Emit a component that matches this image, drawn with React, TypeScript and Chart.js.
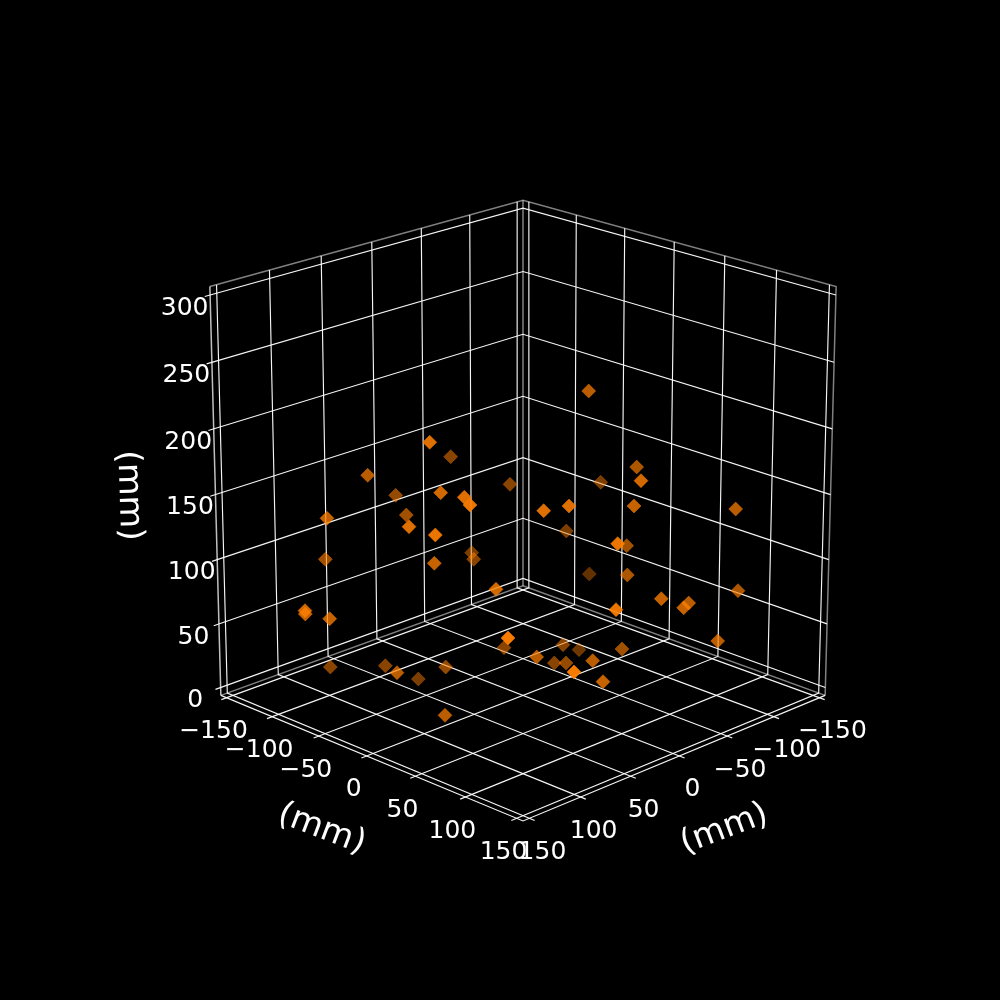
import React, { useEffect, useRef } from "react";
import { Chart, registerables } from "chart.js";

Chart.register(...registerables);

// Axis ticks (mm)
const xyTicks = [-150, -100, -50, 0, 50, 100, 150];
const zTicks = [0, 50, 100, 150, 200, 250, 300];
const axisTitle = "(mm)";

// Markers (projected position, depth shade)
const markerH = [429.7, 450.7, 367.7, 510, 395.7, 440.7, 464.3, 470, 327, 406.3, 409, 435.3, 325.3, 434.3, 471.7, 473.7, 496, 588.7, 636.7, 641, 600.7, 543.7, 569, 634, 735.7, 566.3, 617.7, 626.7, 589.3, 627.3, 738, 661.3, 688.7, 683.7, 616, 717.7, 508, 504, 563, 579, 622, 536.7, 554.3, 566, 592.7, 574, 603, 305, 305.3, 329.7, 330.3, 385.3, 397, 418.3, 445.7, 445];
const markerV = [442.3, 456.7, 475.3, 484.3, 495.3, 492.7, 497.3, 505, 518.3, 515, 526.7, 535, 559.3, 563.3, 552.7, 559.3, 589.3, 391, 467, 480.7, 482.3, 510.7, 506, 506, 509, 531, 543.7, 545.7, 574, 575, 590.7, 598.7, 603, 607.7, 609.7, 641, 638, 647.7, 644.7, 649.7, 649, 657, 663, 663, 660.7, 672, 681.7, 610.7, 614, 618.7, 667, 665.7, 672.7, 679, 667, 715.3];
const markerShade = [0.9, 0.55, 0.75, 0.55, 0.6, 0.85, 0.9, 0.95, 0.8, 0.65, 0.9, 0.95, 0.65, 0.8, 0.5, 0.55, 0.85, 0.75, 0.7, 0.85, 0.5, 0.9, 0.9, 0.8, 0.75, 0.5, 0.95, 0.65, 0.4, 0.7, 0.7, 0.8, 0.75, 0.8, 0.95, 0.75, 1, 0.55, 0.55, 0.45, 0.65, 0.75, 0.55, 0.6, 0.75, 1, 0.8, 0.85, 0.8, 0.8, 0.55, 0.55, 0.75, 0.5, 0.6, 0.75];

// Camera
const ELEV = (20 * Math.PI) / 180;
const AZIM = (45 * Math.PI) / 180;
const DIST = 10;
const HALF = 0.5225;
const SCALE = 4162;
const CX = 523;
const CY = 494.6;
const XY_LIM = 156.25;
const Z_MIN = -6.25;
const Z_MAX = 306.25;
const TICK_OUT = 5;

type P = { x: number; y: number };

function project(xv: number, yv: number, zv: number): P {
  const zc = (Z_MIN + Z_MAX) / 2;
  const px = (xv / XY_LIM) * HALF;
  const py = (yv / XY_LIM) * HALF;
  const pz = ((zv - zc) / (Z_MAX - zc)) * HALF;
  const ce = Math.cos(ELEV), se = Math.sin(ELEV), ca = Math.cos(AZIM), sa = Math.sin(AZIM);
  const X = -sa * px + ca * py;
  const Y = -se * ca * px - se * sa * py + ce * pz;
  const depth = DIST - (ce * ca * px + ce * sa * py + se * pz);
  return { x: CX + (SCALE * X) / depth, y: CY - (SCALE * Y) / depth };
}

function line(points: P[], color: string, width = 1.15) {
  return {
    type: "scatter" as const,
    data: points,
    showLine: true,
    pointRadius: 0,
    borderColor: color,
    borderWidth: width,
    order: 2,
  };
}

const GRID = "rgba(255,255,255,0.96)";
const PANE = "rgba(255,255,255,0.5)";
const L = XY_LIM;

function buildLines() {
  const out: any[] = [];
  for (const t of xyTicks) {
    // x ticks: floor front to back, then up the back wall
    out.push(line([project(t, L + TICK_OUT, Z_MIN), project(t, -L, Z_MIN), project(t, -L, Z_MAX)], GRID));
    // y ticks
    out.push(line([project(L + TICK_OUT, t, Z_MIN), project(-L, t, Z_MIN), project(-L, t, Z_MAX)], GRID));
  }
  for (const t of zTicks) {
    out.push(line([project(L + TICK_OUT, -L, t), project(-L, -L, t), project(-L, L, t)], GRID));
  }
  // panes' outlines
  out.push(line([project(L, -L, Z_MAX), project(-L, -L, Z_MAX), project(-L, L, Z_MAX), project(-L, L, Z_MIN)], PANE, 1.5));
  out.push(line([project(L, -L, Z_MIN), project(-L, -L, Z_MIN), project(-L, L, Z_MIN)], PANE, 1.5));
  out.push(line([project(-L, -L, Z_MIN), project(-L, -L, Z_MAX)], PANE, 1.5));
  // axis lines
  out.push(line([project(L, -L, Z_MIN), project(L, L, Z_MIN), project(-L, L, Z_MIN)], GRID));
  out.push(line([project(L, -L, Z_MIN), project(L, -L, Z_MAX)], "rgba(255,255,255,0.75)", 1.5));
  return out;
}

const textPlugin = {
  id: "axisText",
  afterDatasetsDraw(chart: any) {
    const ctx: CanvasRenderingContext2D = chart.ctx;
    const sx = chart.scales.x, sy = chart.scales.y;
    const put = (p: P, dx: number, dy: number, s: string, size: number, rot = 0) => {
      ctx.save();
      ctx.translate(sx.getPixelForValue(p.x) + dx, sy.getPixelForValue(p.y) + dy);
      ctx.rotate((rot * Math.PI) / 180);
      ctx.font = `${size}px "DejaVu Sans"`;
      ctx.fillStyle = "#fff";
      ctx.textAlign = "center";
      ctx.textBaseline = "middle";
      ctx.fillText(s, 0, 0);
      ctx.restore();
    };
    const fmt = (t: number) => String(t).replace("-", "\u2212");
    for (const t of xyTicks) {
      put(project(t, L, Z_MIN), 13, 34, fmt(t), 25);
      put(project(L, t, Z_MIN), -13, 34, fmt(t), 25);
    }
    for (const t of zTicks) {
      put(project(L, -L, t), -25.5, 13.2, fmt(t), 25);
    }
    put(project(L, 0, Z_MIN), -45, 73.5, axisTitle, 33.3, 20.7);
    put(project(0, L, Z_MIN), 45, 73.5, axisTitle, 33.3, -20.7);
    put(project(L, -L, 150), -87, 1, axisTitle, 33.3, 88);
  },
};

export default function App() {
  const ref = useRef<HTMLCanvasElement>(null);
  useEffect(() => {
    document.body.style.margin = "0";
    document.body.style.background = "#000";
    const points = markerH.map((h, i) => ({ x: h, y: markerV[i] }));
    const chart = new Chart(ref.current!, {
      type: "scatter",
      data: {
        datasets: [
          ...buildLines(),
          {
            type: "scatter",
            data: points,
            pointStyle: "rectRot",
            pointRadius: 7,
            pointBackgroundColor: markerShade.map((a) => `rgba(255,127,0,${Math.min(1, a * 0.97)})`),
            pointBorderColor: markerShade.map((a) => `rgba(255,127,0,${a * 0.5})`),
            pointBorderWidth: 1,
            showLine: false,
            order: 1,
          },
        ],
      },
      options: {
        animation: false,
        responsive: false,
        devicePixelRatio: 1,
        layout: { padding: 0, autoPadding: false },
        plugins: { legend: { display: false }, tooltip: { enabled: false } },
        scales: {
          x: { type: "linear", display: false, min: 0, max: 1000 },
          y: { type: "linear", display: false, min: 0, max: 1000, reverse: true },
        },
      } as any,
      plugins: [textPlugin],
    } as any);
    return () => chart.destroy();
  }, []);
  return <canvas ref={ref} width={1000} height={1000} style={{ display: "block", background: "#000" }} />;
}
